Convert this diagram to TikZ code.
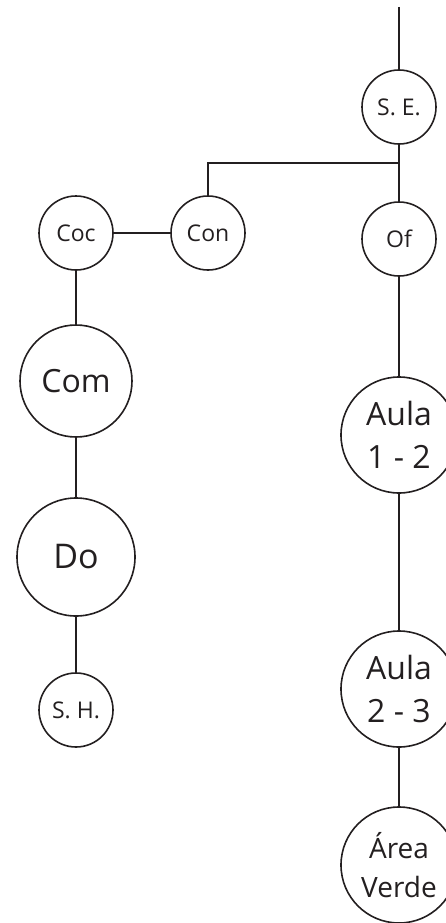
\documentclass[tikz,border=0pt]{standalone}
\usepackage{fontspec}
\setmainfont{Open Sans}
\definecolor{ink}{HTML}{231F20}
\tikzset{
  room/.style={draw=ink, text=ink, circle, line width=1.6pt, inner sep=0pt},
  smallroom/.style={room, minimum size=74pt, font=\fontsize{23}{28}\selectfont},
  bigroom/.style={room, minimum size=116pt, align=center, font=\fontsize{32}{43}\selectfont},
}
\begin{document}
\begin{tikzpicture}[x=1pt, y=-1pt, line width=1.6pt, draw=ink]
  \useasboundingbox (0,0) rectangle (446,923);
  \clip (0,0) rectangle (446,923);
  % right branch
  \coordinate (top) at (399,7);
  \node[smallroom] (se) at (399,107) {S. E.};
  \coordinate (fork) at (399,163);
  \node[smallroom] (of) at (399,239) {Of};
  \node[bigroom] (aula12) at (399,435) {Aula\\1 - 2};
  \node[bigroom] (aula23) at (399,689) {Aula\\2 - 3};
  \node[bigroom, font=\fontsize{28}{39}\selectfont] (verde) at (399,865) {Área\\Verde};
  % left branch
  \node[smallroom] (con) at (208,233) {Con};
  \node[smallroom] (coc) at (76,233) {Coc};
  \node[bigroom, minimum size=112pt] (com) at (76,381) {Com};
  \node[bigroom, minimum size=118pt, font=\fontsize{34}{40}\selectfont] (do) at (76,557) {Do};
  \node[smallroom] (sh) at (76,710) {S. H.};
  \draw[ink] (top) -- (se) -- (of) -- (aula12) -- (aula23) -- (verde);
  \draw[ink] (con) |- (fork);
  \draw[ink] (coc) -- (con);
  \draw[ink] (coc) -- (com) -- (do) -- (sh);
\end{tikzpicture}
\end{document}
